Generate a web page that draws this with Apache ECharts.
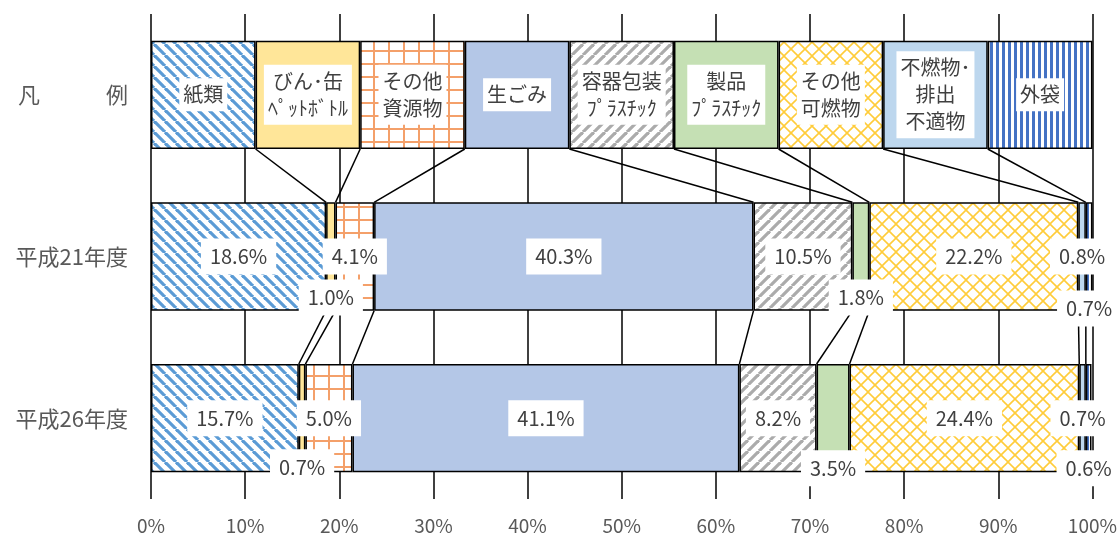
<!DOCTYPE html>
<html>
<head>
<meta charset="utf-8">
<script src="https://cdn.jsdelivr.net/npm/echarts@6/dist/echarts.min.js"></script>
<style>
  html, body { margin: 0; padding: 0; background: #fff; }
  #chart { width: 1120px; height: 537px; }
</style>
</head>
<body>
<div id="chart"></div>
<script>
// Row labels (top row is the key row)
const categories = ['凡　　　例', '平成21年度', '平成26年度'];
// Waste categories, as written in the key row
const itemNames = [
  '紙類',
  'びん･缶\nﾍﾟｯﾄﾎﾞﾄﾙ',
  'その他\n資源物',
  '生ごみ',
  '容器包装\nﾌﾟﾗｽﾁｯｸ',
  '製品\nﾌﾟﾗｽﾁｯｸ',
  'その他\n可燃物',
  '不燃物･\n排出\n不適物',
  '外袋'
];
// Key row: equal shares
const keyRow = [11.11, 11.11, 11.11, 11.11, 11.11, 11.11, 11.11, 11.11, 11.12];
// Composition (%) per fiscal year
const h21 = [18.6, 1.0, 4.1, 40.3, 10.5, 1.8, 22.2, 0.8, 0.7];
const h26 = [15.7, 0.7, 5.0, 41.1, 8.2, 3.5, 24.4, 0.7, 0.6];
const xTicks = [0, 10, 20, 30, 40, 50, 60, 70, 80, 90, 100];

const rows = [keyRow, h21, h26];
const BAR_FRACTION = 0.67;

// Labels of thin segments are pushed below the bar (row -> series -> dy)
const labelDrop = {
  1: { 1: 41, 5: 41, 8: 52 },
  2: { 1: 49, 5: 50, 8: 50 }
};

// ---------- fill patterns ----------
function tile(w, h, draw) {
  const c = document.createElement('canvas');
  c.width = w; c.height = h;
  const g = c.getContext('2d');
  g.fillStyle = '#fff';
  g.fillRect(0, 0, w, h);
  draw(g, w, h);
  return { image: c, repeat: 'repeat' };
}
function diagonal(size, color, width, down) {
  return tile(size, size, (g, s) => {
    g.strokeStyle = color; g.lineWidth = width;
    for (const o of [-s, 0, s]) {
      g.beginPath();
      if (down) { g.moveTo(o, 0); g.lineTo(o + s, s); }
      else { g.moveTo(o, s); g.lineTo(o + s, 0); }
      g.stroke();
    }
  });
}
function gridTile(w, h, color, width) {
  return tile(w, h, (g) => {
    g.fillStyle = color;
    g.fillRect(w - width, 0, width, h);
    g.fillRect(0, h - width, w, width);
  });
}
function crossTile(size, color, width) {
  return tile(size, size, (g, s) => {
    g.strokeStyle = color; g.lineWidth = width;
    for (const o of [-s, 0, s]) {
      g.beginPath(); g.moveTo(o, 0); g.lineTo(o + s, s); g.stroke();
      g.beginPath(); g.moveTo(o, s); g.lineTo(o + s, 0); g.stroke();
    }
  });
}
function verticalStripes(period, color, width) {
  return tile(period, period, (g, w, h) => {
    g.fillStyle = color;
    g.fillRect(0, 0, width, h);
  });
}

const fills = [
  diagonal(11, '#5B9BD5', 3.2, true),
  '#FFE699',
  gridTile(15, 13, '#F4A06A', 2),
  '#B4C7E7',
  diagonal(11, '#ABABAB', 3.2, false),
  '#C5E0B4',
  crossTile(14, '#FFCC3A', 1.6),
  '#BDD7EE',
  verticalStripes(6, '#4472C4', 3)
];

const FONT = '"Noto Sans CJK JP", "Noto Sans", sans-serif';

function keyLabel(name) {
  return {
    show: true,
    position: 'inside',
    formatter: name,
    color: '#404040',
    fontFamily: FONT,
    fontSize: 20,
    lineHeight: 27,
    backgroundColor: '#fff',
    padding: [3, 4, 3, 4]
  };
}
function valueLabel(value, dy) {
  return {
    show: true,
    position: 'inside',
    offset: [0, dy || 0],
    formatter: value.toFixed(1) + '%',
    color: '#404040',
    fontFamily: FONT,
    fontSize: 20,
    lineHeight: 24,
    backgroundColor: '#fff',
    padding: [6, 9, 6, 9]
  };
}

const barSeries = itemNames.map((name, i) => ({
  type: 'bar',
  name: name,
  stack: 'total',
  barWidth: (BAR_FRACTION * 100) + '%',
  itemStyle: { color: fills[i], borderColor: '#000', borderWidth: 1.5 },
  emphasis: { disabled: true },
  data: rows.map((row, r) => ({
    value: row[i],
    label: r === 0 ? keyLabel(name) : valueLabel(row[i], (labelDrop[r] || {})[i])
  })),
  z: 2
}));

// Series lines joining segment edges of neighbouring rows
function cumulative(arr) {
  let s = 0;
  return arr.map(v => (s += v));
}
const cums = rows.map(cumulative);
const linkData = [];
for (let r = 0; r < rows.length - 1; r++) {
  for (let k = 0; k < itemNames.length - 1; k++) {
    linkData.push([cums[r][k], cums[r + 1][k], r]);
  }
}

const linkSeries = {
  type: 'custom',
  silent: true,
  z: 1,
  encode: { x: [0, 1], y: 2 },
  data: linkData,
  renderItem: function (params, api) {
    const row = api.value(2);
    const a = api.coord([api.value(0), row]);
    const b = api.coord([api.value(1), row + 1]);
    const half = api.size([0, 1])[1] * BAR_FRACTION / 2;
    return {
      type: 'line',
      shape: { x1: a[0], y1: a[1] + half, x2: b[0], y2: b[1] - half },
      style: { stroke: '#000', lineWidth: 1.5 }
    };
  }
};

const chart = echarts.init(document.getElementById('chart'), null, { renderer: 'canvas' });
chart.setOption({
  animation: false,
  backgroundColor: '#fff',
  grid: { left: 151, right: 27, top: 14, bottom: 38, containLabel: false },
  xAxis: {
    type: 'value',
    min: xTicks[0],
    max: xTicks[xTicks.length - 1],
    interval: xTicks[1] - xTicks[0],
    axisLine: { show: false },
    axisTick: { show: false },
    splitLine: { show: true, lineStyle: { color: '#000', width: 1.5 } },
    axisLabel: {
      formatter: '{value}%',
      color: '#595959',
      fontFamily: FONT,
      fontSize: 19,
      margin: 17
    }
  },
  yAxis: {
    type: 'category',
    inverse: true,
    data: categories,
    axisLine: { show: false },
    axisTick: { show: false },
    axisLabel: {
      color: '#595959',
      fontFamily: FONT,
      fontSize: 22,
      margin: 23
    }
  },
  series: barSeries.concat([linkSeries])
});
</script>
</body>
</html>
